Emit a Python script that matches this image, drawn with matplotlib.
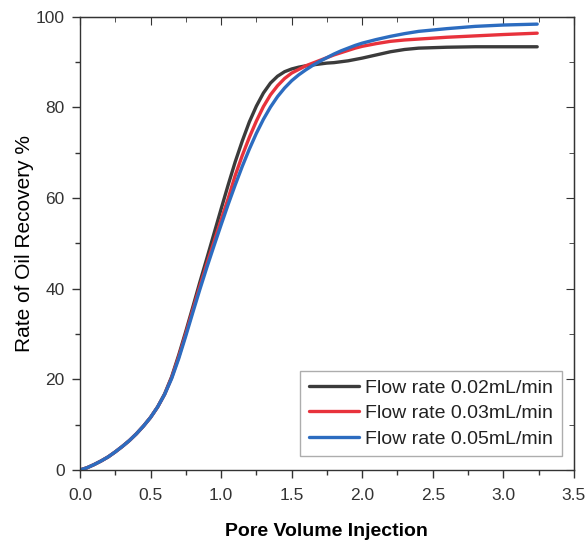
import numpy as np
import matplotlib.pyplot as plt
from matplotlib.ticker import MultipleLocator

plt.rcParams['font.family'] = ['Liberation Sans', 'DejaVu Sans']

# values
pv = [0.0, 0.05, 0.1, 0.15, 0.2, 0.25, 0.3, 0.35, 0.4, 0.45, 0.5, 0.55, 0.6, 0.65,
      0.7, 0.75, 0.8, 0.85, 0.9, 0.95, 1.0, 1.05, 1.1, 1.15, 1.2, 1.25, 1.3, 1.35,
      1.4, 1.45, 1.5, 1.55, 1.6, 1.65, 1.7, 1.75, 1.8, 1.85, 1.9, 1.95, 2.0, 2.1,
      2.2, 2.3, 2.4, 2.6, 2.8, 3.0, 3.24]
rec_002 = [0.0, 0.5, 1.2, 2.0, 2.9, 4.0, 5.2, 6.5, 8.0, 9.7, 11.6, 13.9, 16.8, 20.6,
           25.4, 30.6, 36.0, 41.5, 46.8, 52.2, 57.6, 62.9, 68.0, 72.6, 76.8, 80.3, 83.2, 85.4,
           86.9, 87.9, 88.5, 88.9, 89.2, 89.4, 89.6, 89.8, 89.9, 90.1, 90.3, 90.6, 90.9, 91.6,
           92.3, 92.8, 93.1, 93.3, 93.4, 93.4, 93.4]
rec_003 = [0.0, 0.5, 1.2, 2.0, 2.9, 4.0, 5.2, 6.5, 8.0, 9.7, 11.6, 13.9, 16.7, 20.4,
           25.0, 30.1, 35.4, 40.6, 45.6, 50.4, 55.2, 59.9, 65.0, 69.4, 73.4, 77.0, 80.2, 82.8,
           84.8, 86.4, 87.6, 88.4, 89.2, 89.8, 90.4, 91.0, 91.6, 92.1, 92.6, 93.1, 93.5, 94.1,
           94.6, 94.9, 95.1, 95.5, 95.8, 96.1, 96.4]
rec_005 = [0.0, 0.5, 1.2, 2.0, 2.9, 4.0, 5.2, 6.5, 8.0, 9.7, 11.6, 13.9, 16.7, 20.2,
           24.6, 29.6, 34.8, 39.9, 44.8, 49.5, 54.1, 58.6, 62.9, 67.0, 70.8, 74.3, 77.4, 80.1,
           82.4, 84.3, 85.9, 87.2, 88.3, 89.3, 90.2, 91.0, 91.8, 92.5, 93.1, 93.7, 94.2, 95.0,
           95.7, 96.3, 96.8, 97.4, 97.9, 98.2, 98.4]

labels = ['Flow rate 0.02mL/min', 'Flow rate 0.03mL/min', 'Flow rate 0.05mL/min']
colors = ['#3b3b3b', '#e8323c', '#2c6cc0']

fig = plt.figure(figsize=(5.88, 5.44), dpi=100)
ax = fig.add_axes([0.136, 0.136, 0.840, 0.833])

for y, lab, c in zip([rec_002, rec_003, rec_005], labels, colors):
    ax.plot(pv, y, color=c, lw=2.4, label=lab, solid_capstyle='round',
            solid_joinstyle='round')

ax.set_xlim(0, 3.5)
ax.set_ylim(0, 100)
ax.xaxis.set_major_locator(MultipleLocator(0.5))
ax.xaxis.set_minor_locator(MultipleLocator(0.25))
ax.yaxis.set_major_locator(MultipleLocator(20))
ax.yaxis.set_minor_locator(MultipleLocator(10))

spine_c = '#333333'
for s in ax.spines.values():
    s.set_color(spine_c)
    s.set_linewidth(1.0)

ax.tick_params(which='both', direction='out', color=spine_c, labelcolor='#333333',
               labelsize=12.5)
ax.tick_params(which='major', length=6, width=1.0, pad=5)
ax.tick_params(axis='x', which='major', pad=7)
ax.tick_params(which='minor', length=3.5, width=1.0)

# mirrored ticks on top and right, pointing inward
top = ax.secondary_xaxis('top')
top.xaxis.set_major_locator(MultipleLocator(0.5))
top.xaxis.set_minor_locator(MultipleLocator(0.25))
top.tick_params(which='both', direction='in', labeltop=False, color=spine_c)
top.tick_params(which='major', length=6)
top.tick_params(which='minor', length=3.5)
top.spines['top'].set_color(spine_c)
right = ax.secondary_yaxis('right')
right.yaxis.set_major_locator(MultipleLocator(20))
right.yaxis.set_minor_locator(MultipleLocator(10))
right.tick_params(which='both', direction='in', labelright=False, color=spine_c)
right.tick_params(which='major', length=6)
right.tick_params(which='minor', length=3.5)
right.spines['right'].set_color(spine_c)

ax.set_xlabel('Pore Volume Injection', fontsize=14, fontweight='bold', labelpad=14)
ax.set_ylabel('Rate of Oil Recovery %', fontsize=15, labelpad=1)

leg = ax.legend(loc='lower right', bbox_to_anchor=(0.975, 0.03), fontsize=14,
                frameon=True, fancybox=False, edgecolor='#999999',
                handlelength=2.6, handletextpad=0.3, borderpad=0.45,
                labelspacing=0.4, borderaxespad=0.0)
leg.get_frame().set_linewidth(1.0)
for t in leg.get_texts():
    t.set_color('#222222')

fig.savefig('out.png', dpi=100)
